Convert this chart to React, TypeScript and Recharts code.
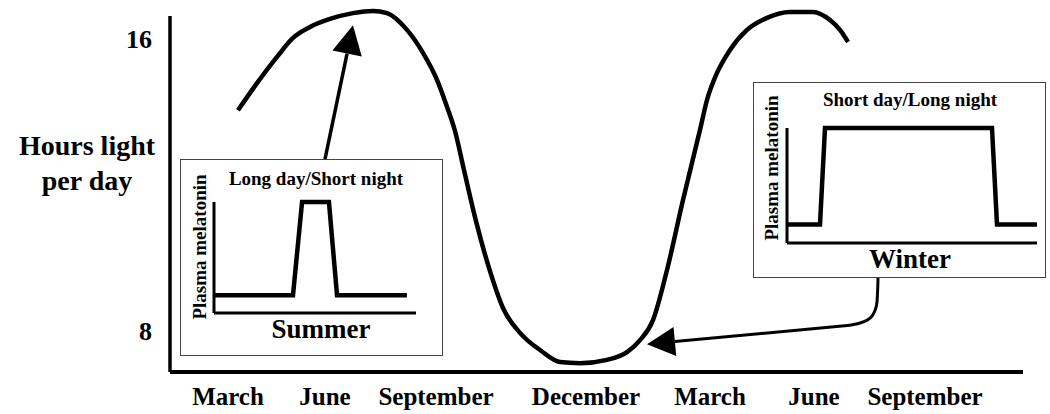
import { LineChart, Line, XAxis, YAxis, ReferenceLine } from "recharts";

const SERIF = '"Liberation Serif", "Times New Roman", serif';

// main curve: position along the time axis (0..853) vs hours of light
const dayPos = [68, 87, 107, 123, 140, 160, 183, 203, 217, 237, 253, 267, 276, 285, 294, 306, 320, 333, 350, 370, 390, 410, 437, 457, 470, 483, 497, 513, 530, 537, 547, 560, 577, 597, 620, 643, 660, 670, 678];
const dayHours = [14.05, 14.79, 15.51, 16.03, 16.33, 16.55, 16.71, 16.77, 16.71, 16.25, 15.62, 14.88, 14.22, 13.48, 12.41, 11.01, 9.64, 8.63, 7.95, 7.48, 7.15, 7.12, 7.21, 7.42, 7.75, 8.3, 9.67, 11.59, 13.51, 14.33, 15.07, 15.7, 16.25, 16.58, 16.74, 16.74, 16.52, 16.25, 15.92];

const monthTicks = [58, 155, 266, 416, 540, 644, 755];
const monthLabels = ["March", "June", "September", "December", "March", "June", "September"];
const hourTicks = [8, 16];

// arrow from the winter box: curved tail, then straight to the tip
const winterTailPos = [708, 707, 702, 690, 680];
const winterTailHours = [9.45, 8.8, 8.41, 8.22, 8.16];
const winterTip = { x: 477, y: 7.64 };
const summerTail = { x: 155, y: 12.71 };
const summerTip = { x: 183, y: 16.38 };

// insets: relative time of day (0..100) vs relative melatonin level
const summerTime = [0, 39.1, 43.6, 56.9, 60.9, 95.5];
const summerLevel = [0.16, 0.16, 1, 1, 0.16, 0.16];
const winterTime = [0, 13.2, 15.2, 82, 84, 100];
const winterLevel = [0.16, 0.16, 1, 1, 0.16, 0.16];

const Y_MIN = 6.877;
const Y_MAX = 16.85;
const AXIS_TOP = 16.685;

const curveData = dayPos.map((x, i) => ({ x, h: dayHours[i] }));
const tailData = winterTailPos.map((x, i) => ({ x, h: winterTailHours[i] }));
const summerData = summerTime.map((t, i) => ({ t, m: summerLevel[i] }));
const winterData = winterTime.map((t, i) => ({ t, m: winterLevel[i] }));

const arrow = (headLen: number, headHalf: number, width: number) => (props: any) => {
  const { x1, y1, x2, y2 } = props;
  const dx = x2 - x1;
  const dy = y2 - y1;
  const len = Math.hypot(dx, dy) || 1;
  const ux = dx / len;
  const uy = dy / len;
  const bx = x2 - ux * headLen;
  const by = y2 - uy * headLen;
  const nx = -uy * headHalf;
  const ny = ux * headHalf;
  return (
    <g>
      <line x1={x1} y1={y1} x2={bx} y2={by} stroke="#000" strokeWidth={width} />
      <polygon points={`${x2},${y2} ${bx + nx},${by + ny} ${bx - nx},${by - ny}`} fill="#000" />
    </g>
  );
};

const axisLine = (props: any) => {
  const { x1, y1, x2, y2 } = props;
  return <line x1={x1} y1={y1} x2={x2} y2={y2 + 2} stroke="#000" strokeWidth={3.5} />;
};

function Inset({ left, top, width, height, data, plot, title, season, titlePos, sidePos, seasonPos }: any) {
  const innerW = width - 2;
  const innerH = height - 2;
  return (
    <div
      style={{
        position: "absolute",
        left,
        top,
        width,
        height,
        boxSizing: "border-box",
        border: "1px solid #444",
        background: "#fff",
      }}
    >
      <LineChart width={innerW} height={innerH} data={data} margin={{ top: plot.top, right: plot.right, bottom: 0, left: 0 }}>
        <XAxis dataKey="t" type="number" domain={[0, 100]} tick={false} tickLine={false} height={plot.bottom} axisLine={{ stroke: "#000", strokeWidth: 3 }} />
        <YAxis type="number" domain={[0, 1]} tick={false} tickLine={false} width={plot.left} axisLine={{ stroke: "#000", strokeWidth: 3 }} />
        <Line dataKey="m" type="linear" stroke="#000" strokeWidth={4.5} dot={false} isAnimationActive={false} />
        <text x={titlePos[0]} y={titlePos[1]} textAnchor="middle" fontFamily={SERIF} fontWeight={700} fontSize={19}>
          {title}
        </text>
        <text
          x={sidePos[0]}
          y={sidePos[1]}
          textAnchor="middle"
          dominantBaseline="central"
          transform={`rotate(-90 ${sidePos[0]} ${sidePos[1]})`}
          fontFamily={SERIF}
          fontWeight={700}
          fontSize={19}
        >
          Plasma melatonin
        </text>
        <text x={seasonPos[0]} y={seasonPos[1]} textAnchor="middle" fontFamily={SERIF} fontWeight={700} fontSize={27}>
          {season}
        </text>
      </LineChart>
    </div>
  );
}

export default function App() {
  return (
    <div style={{ position: "absolute", left: 0, top: 0, width: 1050, height: 414, background: "#fff" }}>
      <LineChart width={1050} height={414} margin={{ top: 8, right: 27, bottom: 0, left: 0 }}>
        <XAxis
          dataKey="x"
          type="number"
          domain={[0, 853]}
          allowDataOverflow
          ticks={monthTicks}
          interval={0}
          tickFormatter={(_v: number, i: number) => monthLabels[i]}
          tickLine={false}
          tickSize={13}
          tickMargin={2}
          height={42}
          axisLine={{ stroke: "#000", strokeWidth: 4 }}
          tick={{ fill: "#000", fontSize: 25, fontWeight: 700, fontFamily: SERIF }}
        />
        <YAxis
          type="number"
          domain={[Y_MIN, Y_MAX]}
          allowDataOverflow
          ticks={hourTicks}
          interval={0}
          width={170}
          tickLine={false}
          tickSize={16}
          tickMargin={2}
          axisLine={false}
          tick={{ fill: "#000", fontSize: 26, fontWeight: 700, fontFamily: SERIF }}
        />
        <ReferenceLine
          segment={[{ x: 0, y: Y_MIN }, { x: 0, y: AXIS_TOP }]}
          ifOverflow="visible"
          shape={axisLine}
        />
        <Line data={curveData} dataKey="h" type="monotone" stroke="#000" strokeWidth={4.5} dot={false} isAnimationActive={false} />
        <Line data={tailData} dataKey="h" type="monotoneY" stroke="#000" strokeWidth={3} dot={false} isAnimationActive={false} />
        <ReferenceLine
          segment={[summerTail, summerTip]}
          ifOverflow="visible"
          shape={arrow(29, 15, 3.5)}
        />
        <ReferenceLine
          segment={[{ x: winterTailPos[winterTailPos.length - 1], y: winterTailHours[winterTailHours.length - 1] }, winterTip]}
          ifOverflow="visible"
          shape={arrow(28, 14.5, 3)}
        />
        <text x={87} y={155} textAnchor="middle" fontFamily={SERIF} fontWeight={700} fontSize={28}>
          Hours light
        </text>
        <text x={87} y={190} textAnchor="middle" fontFamily={SERIF} fontWeight={700} fontSize={28}>
          per day
        </text>
      </LineChart>
      <Inset
        left={180}
        top={159}
        width={263}
        height={197}
        data={summerData}
        plot={{ left: 33, top: 42, right: 26, bottom: 42 }}
        title="Long day/Short night"
        season="Summer"
        titlePos={[135, 25]}
        sidePos={[18, 87]}
        seasonPos={[140, 178]}
      />
      <Inset
        left={753}
        top={82}
        width={293}
        height={196}
        data={winterData}
        plot={{ left: 33, top: 45, right: 8, bottom: 34 }}
        title="Short day/Long night"
        season="Winter"
        titlePos={[156, 23]}
        sidePos={[17, 85]}
        seasonPos={[156, 185]}
      />
    </div>
  );
}
